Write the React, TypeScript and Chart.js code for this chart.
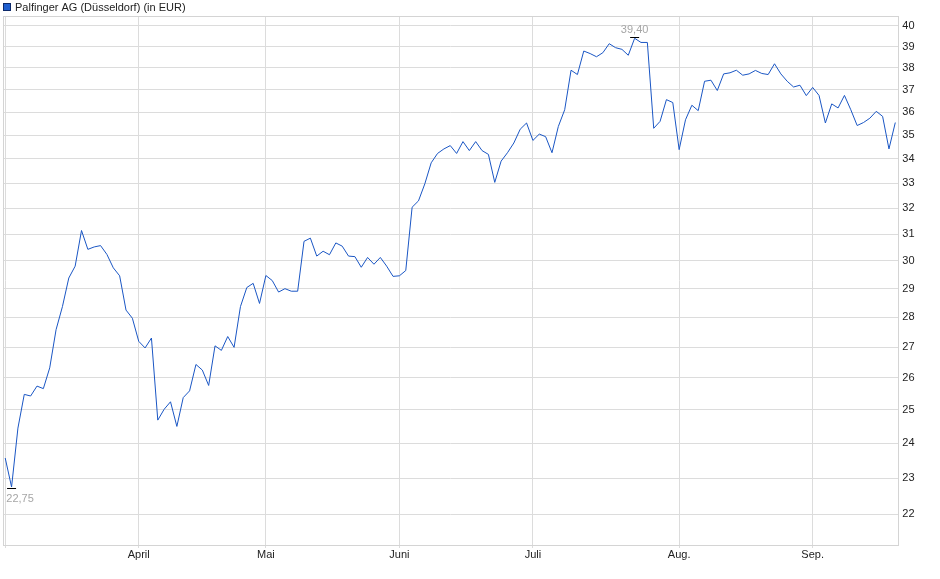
import { useEffect, useRef } from "react"
import { Chart, registerables } from "chart.js"

Chart.register(...registerables)

const seriesLabel = "Palfinger AG (Düsseldorf) (in EUR)"
const monthLabels = ["", "April", "Mai", "Juni", "Juli", "Aug.", "Sep."]

// daily closes, one array per month (trading days only)
const marchPrices = [23.57, 22.75, 24.45, 25.48, 25.43, 25.74, 25.66, 26.32, 27.58, 28.37, 29.38, 29.81, 31.14, 30.43, 30.52, 30.57, 30.24, 29.75, 29.46, 28.25, 27.97]
const aprilPrices = [27.19, 26.97, 27.3, 24.69, 25.02, 25.25, 24.5, 25.38, 25.59, 26.43, 26.25, 25.76, 27.04, 26.89, 27.35, 26.99, 28.37, 29.04, 29.19, 28.48]
const mayPrices = [29.47, 29.29, 28.88, 29.0, 28.91, 28.91, 30.73, 30.85, 30.18, 30.36, 30.23, 30.67, 30.55, 30.18, 30.16, 29.77, 30.13, 29.88, 30.13, 29.81, 29.44]
const junePrices = [29.46, 29.65, 32.04, 32.29, 32.97, 33.83, 34.22, 34.41, 34.55, 34.22, 34.72, 34.34, 34.72, 34.34, 34.18, 33.03, 33.9, 34.25, 34.66, 35.25, 35.52]
const julyPrices = [34.77, 35.04, 34.93, 34.25, 35.37, 36.1, 37.89, 37.69, 38.79, 38.67, 38.52, 38.71, 39.14, 38.95, 38.87, 38.59, 39.4, 39.2, 39.2, 35.29, 35.59, 36.55, 36.42]
const augustPrices = [34.38, 35.66, 36.3, 36.06, 37.38, 37.43, 36.96, 37.72, 37.77, 37.89, 37.66, 37.72, 37.88, 37.74, 37.69, 38.19, 37.72, 37.38, 37.12, 37.2, 36.73]
const septemberPrices = [37.1, 36.74, 35.52, 36.36, 36.18, 36.74, 36.1, 35.41, 35.54, 35.73, 36.03, 35.81, 34.41, 35.54]

const yTicks = [22, 23, 24, 25, 26, 27, 28, 29, 30, 31, 32, 33, 34, 35, 36, 37, 38, 39, 40]

const months = [marchPrices, aprilPrices, mayPrices, junePrices, julyPrices, augustPrices, septemberPrices]
const prices = months.flat()
const monthStarts = months.map((_, i) => months.slice(0, i).reduce((s, m) => s + m.length, 0))

const FONT = '"Liberation Sans", Arial, sans-serif'
const fmt = (v: number) => v.toFixed(2).replace(".", ",")

// grey frame round the plot area
const frame = {
  id: "frame",
  beforeDatasetsDraw(chart: any) {
    const { ctx, chartArea: a } = chart
    ctx.save()
    ctx.strokeStyle = "#d4d4d4"
    ctx.lineWidth = 1
    ctx.strokeRect(Math.round(a.left) + 0.5, Math.round(a.top) + 0.5, Math.round(a.right - a.left), Math.round(a.bottom - a.top))
    ctx.restore()
  },
}

// little key in the top left corner
const seriesKey = {
  id: "seriesKey",
  afterDraw(chart: any) {
    const { ctx, chartArea } = chart
    const ds = chart.data.datasets[0]
    const x0 = Math.round(chartArea.left) + 0.5
    ctx.save()
    ctx.fillStyle = ds.backgroundColor
    ctx.strokeStyle = "#0d2a6b"
    ctx.lineWidth = 1
    ctx.fillRect(x0, 3.5, 7, 7)
    ctx.strokeRect(x0, 3.5, 7, 7)
    ctx.font = "11px " + FONT
    ctx.fillStyle = "#222"
    ctx.textBaseline = "alphabetic"
    ctx.fillText(ds.label, x0 + 11.5, 11)
    ctx.restore()
  },
}

// marks the lowest and highest close with a small bar and its value
const extremes = {
  id: "extremes",
  afterDatasetsDraw(chart: any) {
    const { ctx, chartArea } = chart
    const x = chart.scales.x
    const y = chart.scales.y
    const lo = prices.indexOf(Math.min(...prices))
    const hi = prices.indexOf(Math.max(...prices))
    ctx.save()
    ctx.font = "11px " + FONT
    ctx.lineWidth = 1
    ctx.strokeStyle = "#000"
    ctx.fillStyle = "#a6a6a6"
    ctx.textBaseline = "alphabetic"
    const mark = (i: number, dir: number) => {
      const px = x.getPixelForValue(i)
      const py = Math.round(y.getPixelForValue(prices[i]) + dir * 1.5) + 0.5
      ctx.beginPath()
      ctx.moveTo(px - 4.5, py)
      ctx.lineTo(px + 4.5, py)
      ctx.stroke()
      const text = fmt(prices[i])
      const w = ctx.measureText(text).width
      const tx = Math.max(chartArea.left + 3, px - w / 2)
      ctx.fillText(text, tx, dir > 0 ? py + 13 : py - 4.5)
    }
    mark(lo, 1)
    mark(hi, -1)
    ctx.restore()
  },
}

export default function App() {
  const chartRef = useRef<HTMLCanvasElement>(null)
  const chartInstance = useRef<Chart | null>(null)

  useEffect(() => {
    if (!chartRef.current) return
    const ctx = chartRef.current.getContext("2d")
    if (!ctx) return

    if (chartInstance.current) {
      chartInstance.current.destroy()
    }

    Chart.defaults.font.family = FONT
    Chart.defaults.font.size = 11

    chartInstance.current = new Chart(ctx, {
      type: "line",
      data: {
        datasets: [
          {
            label: seriesLabel,
            data: prices.map((v, i) => ({ x: i, y: v })),
            borderColor: "#1a56c4",
            backgroundColor: "#1f5fcf",
            borderWidth: 1,
            pointRadius: 0,
            tension: 0,
            fill: false,
          },
        ],
      },
      options: {
        animation: false,
        responsive: true,
        maintainAspectRatio: false,
        layout: { padding: { left: 3.3, right: 0, top: 16, bottom: 0 } },
        scales: {
          x: {
            type: "linear",
            min: -0.3,
            max: prices.length - 0.53,
            grid: { color: "#dcdcdc", tickLength: 3 },
            border: { color: "#d4d4d4" },
            afterBuildTicks: (scale: any) => {
              scale.ticks = monthStarts.map((v) => ({ value: v }))
            },
            afterFit: (scale: any) => {
              scale.height = 34
            },
            ticks: {
              color: "#222",
              padding: 0,
              maxRotation: 0,
              autoSkip: false,
              callback: (v: any) => {
                const i = monthStarts.indexOf(Number(v))
                return i >= 0 ? monthLabels[i] : ""
              },
            },
          },
          y: {
            type: "logarithmic",
            position: "right",
            min: 21.19,
            max: 40.49,
            grid: { color: "#dcdcdc", drawTicks: false },
            border: { color: "#d4d4d4" },
            afterBuildTicks: (scale: any) => {
              scale.ticks = yTicks.map((v) => ({ value: v }))
            },
            afterFit: (scale: any) => {
              scale.width = 41.7
            },
            ticks: {
              color: "#222",
              padding: 4,
              callback: (v: any) => String(v),
            },
          },
        },
        plugins: {
          legend: { display: false },
          tooltip: { enabled: false },
        },
      },
      plugins: [frame, extremes, seriesKey],
    })

    return () => {
      if (chartInstance.current) {
        chartInstance.current.destroy()
        chartInstance.current = null
      }
    }
  }, [])

  return (
    <div style={{ position: "fixed", left: 0, top: 0, width: 940, height: 579, background: "#fff" }}>
      <canvas ref={chartRef} />
    </div>
  )
}
